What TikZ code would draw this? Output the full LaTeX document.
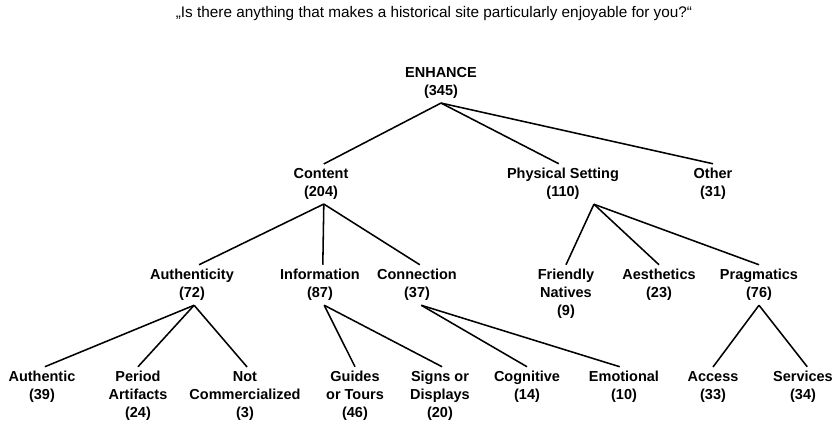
\documentclass[tikz,border=0pt]{standalone}
\usepackage{fontspec}
\setmainfont{Liberation Sans}
\usepackage{xcolor}
\usepackage{tikz}

\begin{document}
\begin{tikzpicture}[
			x=0.025cm, y=-0.025cm,
			cat/.style={inner sep=3pt, align=center, font=\fontsize{10.3}{12.8}\selectfont\bfseries},
			title/.style={inner sep=0pt, font=\fontsize{10.9}{12.8}\selectfont},
			line/.style={line width=1.1pt, black}
		]
		\useasboundingbox (0,0) rectangle (838,422);

		% Question
		\node[title] (q) at (434,14) {„Is there anything that makes a historical site particularly enjoyable for you?“};

		% Root
		\node[cat] (enh) at (441,83) {ENHANCE\\(345)};

		% Main categories
		\node[cat] (cont) at (321,184) {Content\\(204)};
		\node[cat] (phys) at (563,184) {Physical Setting\\(110)};
		\node[cat] (other) at (713,184) {Other\\(31)};

		% Content
		\node[cat] (auth) at (192,285) {Authenticity\\(72)};
		\node[cat] (info) at (320,285) {Information\\(87)};
		\node[cat] (conn) at (417,285) {Connection\\(37)};

		% Physical setting
		\node[cat] (natives) at (566,294) {Friendly\\Natives\\(9)};
		\node[cat] (aesth) at (659,285) {Aesthetics\\(23)};
		\node[cat] (prag) at (759,285) {Pragmatics\\(76)};

		% Leaves
		\node[cat] (authc) at (42,387) {Authentic\\(39)};
		\node[cat] (period) at (138,396) {Period\\Artifacts\\(24)};
		\node[cat] (notcomm) at (245,396) {Not\\Commercialized\\(3)};
		\node[cat] (guides) at (355,396) {Guides\\or Tours\\(46)};
		\node[cat] (signs) at (440,396) {Signs or\\Displays\\(20)};
		\node[cat] (cogn) at (527,387) {Cognitive\\(14)};
		\node[cat] (emot) at (624,387) {Emotional\\(10)};
		\node[cat] (access) at (713,387) {Access\\(33)};
		\node[cat] (serv) at (803,387) {Services\\(34)};

		% Lines
		\draw[line] (enh.south) -- ([xshift=2pt]cont.north);
		\draw[line] (enh.south) -- ([xshift=-3pt]phys.north);
		\draw[line] (enh.south) -- (other.north);
		\draw[line] ([xshift=2pt]cont.south) -- ([xshift=5pt]auth.north);
		\draw[line] ([xshift=2pt]cont.south) -- ([xshift=2pt]info.north);
		\draw[line] ([xshift=2pt]cont.south) -- ([xshift=2pt]conn.north);
		\draw[line] ([xshift=22pt]phys.south) -- (natives.north);
		\draw[line] ([xshift=22pt]phys.south) -- (aesth.north);
		\draw[line] ([xshift=22pt]phys.south) -- (prag.north);
		\draw[line] ([xshift=1.5pt]auth.south) -- ([xshift=2pt]authc.north);
		\draw[line] ([xshift=1.5pt]auth.south) -- (period.north);
		\draw[line] ([xshift=1.5pt]auth.south) -- ([xshift=1.5pt]notcomm.north);
		\draw[line] ([xshift=3pt]info.south) -- (guides.north);
		\draw[line] ([xshift=3pt]info.south) -- ([xshift=1.5pt]signs.north);
		\draw[line] ([xshift=3pt]conn.south) -- (cogn.north);
		\draw[line] ([xshift=3pt]conn.south) -- ([xshift=-3pt]emot.north);
		\draw[line] (prag.south) -- (access.north);
		\draw[line] (prag.south) -- ([xshift=3pt]serv.north);

	\end{tikzpicture}
\end{document}
